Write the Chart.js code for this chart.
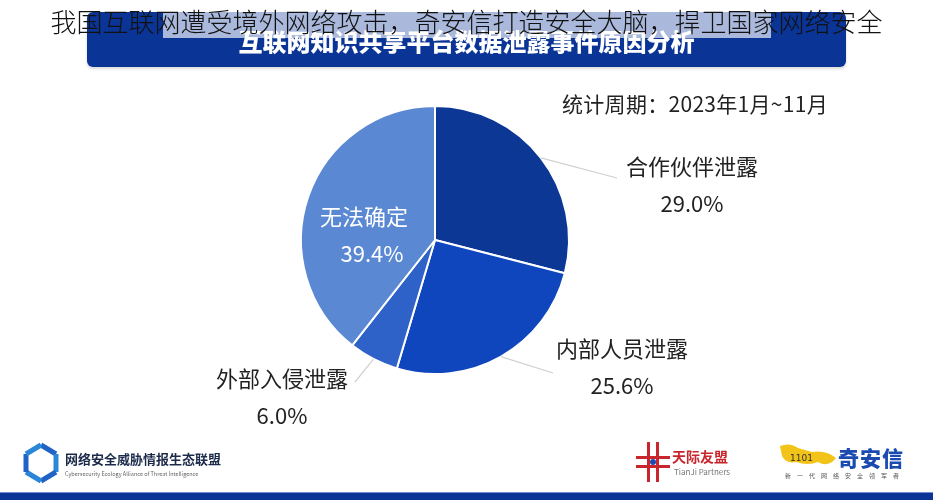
<!DOCTYPE html>
<html>
<head>
<meta charset="utf-8">
<script src="https://cdn.jsdelivr.net/npm/chart.js@4.4.1/dist/chart.umd.min.js"></script>
<style>
  html, body { margin: 0; padding: 0; background: #fff; }
  body { width: 933px; height: 500px; position: relative; overflow: hidden; font-family: "Noto Sans CJK SC", "Noto Sans", sans-serif; }
  #wrap { position: absolute; left: 0; top: 0; width: 933px; height: 500px; }
  .banner { position: absolute; left: 87px; top: 12px; width: 759px; height: 55px; background: #0a3597; border-radius: 6px; box-shadow: 0 2px 3px rgba(0,0,0,0.15); }
  .banner span { position: absolute; left: 0; right: 0; top: 14px; text-align: center; color: #fff; font-size: 24px; font-weight: 900; line-height: 30px; }
  .veil { position: absolute; left: 163px; top: 10px; width: 608px; height: 28px; background: rgba(255,255,255,0.65); }
  .headline { position: absolute; left: 0; right: 0; top: 4px; text-align: center; font-size: 26px; color: #111; font-weight: 300; line-height: 34px; }
  .period { position: absolute; left: 562px; top: 89px; font-size: 21px; color: #222; line-height: 28px; letter-spacing: 0.3px; }
  .foot { position: absolute; left: 0; top: 492px; width: 933px; height: 8px; background: #0a3597; border-top: 1px solid #6f8fd0; }
  .logo1t { position: absolute; left: 65px; top: 450px; font-size: 13px; font-weight: 700; color: #1c2a4a; line-height: 18px; }
  .logo1s { position: absolute; left: 65px; top: 470px; font-size: 5.5px; color: #666; line-height: 8px; }
  .logo2t { position: absolute; left: 672px; top: 447px; font-size: 14px; font-weight: 700; color: #c8262c; line-height: 18px; }
  .logo2s { position: absolute; left: 674px; top: 467px; font-size: 8px; color: #777; line-height: 10px; }
  .logo3t { position: absolute; left: 838px; top: 443px; font-size: 21px; font-weight: 900; color: #1b4bb0; line-height: 28px; letter-spacing: 1px; }
  .logo3s { position: absolute; left: 785px; top: 472px; font-size: 6px; color: #555; line-height: 8px; letter-spacing: 6px; }
  canvas { position: absolute; left: 0; top: 0; }
</style>
</head>
<body>
<div id="wrap">
  <canvas id="pieChart" width="933" height="500"></canvas>
</div>
<div class="banner"><span>互联网知识共享平台数据泄露事件原因分析</span></div>
<div class="veil"></div>
<div class="headline">我国互联网遭受境外网络攻击，奇安信打造安全大脑，捍卫国家网络安全</div>
<div class="period">统计周期：2023年1月~11月</div>

<svg style="position:absolute;left:22px;top:442px" width="38" height="42" viewBox="0 0 38 42">
  <g fill="none" stroke-width="5">
    <path d="M19 3 L34 12" stroke="#1f63c6"/>
    <path d="M34 12 L34 30" stroke="#2b86d8"/>
    <path d="M34 30 L19 39" stroke="#1f63c6"/>
    <path d="M19 39 L4 30" stroke="#2b86d8"/>
    <path d="M4 30 L4 12" stroke="#1f63c6"/>
    <path d="M4 12 L19 3" stroke="#2b86d8"/>
  </g>
  <circle cx="19" cy="21" r="7" fill="#fff"/>
</svg>
<div class="logo1t">网络安全威胁情报生态联盟</div>
<div class="logo1s">Cybersecurity Ecology Alliance of Threat Intelligence</div>

<svg style="position:absolute;left:636px;top:442px" width="34" height="40" viewBox="0 0 34 40">
  <rect x="11" y="0" width="3" height="40" fill="#c8262c"/>
  <rect x="20" y="0" width="3" height="40" fill="#c8262c"/>
  <rect x="0" y="14" width="34" height="3" fill="#c8262c"/>
  <rect x="0" y="23" width="34" height="3" fill="#c8262c"/>
  <circle cx="17" cy="20" r="3" fill="#1b4bb0"/>
</svg>
<div class="logo2t">天际友盟</div>
<div class="logo2s">TianJi Partners</div>

<svg style="position:absolute;left:778px;top:442px" width="60" height="28" viewBox="0 0 60 28">
  <path d="M2 4 Q12 0 20 6 L34 10 Q48 8 58 16 Q50 26 40 20 Q30 24 18 20 Q8 22 4 14 Z" fill="#f2c318"/>
  <text x="12" y="19" font-size="9" font-family="DejaVu Sans" fill="#333">1101</text>
</svg>
<div class="logo3t">奇安信</div>
<div class="logo3s">新一代网络安全领军者</div>

<div class="foot"></div>

<script>
// slices, clockwise from 12 o'clock
const categories = ["合作伙伴泄露", "内部人员泄露", "外部入侵泄露", "无法确定"];
const shares = [29.0, 25.6, 6.0, 39.4];
const shareLabels = ["29.0%", "25.6%", "6.0%", "39.4%"];
const sliceColors = ["#0c3795", "#0f45bd", "#2f62c8", "#5b88d3"];

// label layout: offsets of the text block from the pie centre, end point of the leader line
const labelLayout = [
  { dx: 257, dy: -54, lineEnd: [182, -62], inside: false },
  { dx: 187, dy: 128, lineEnd: [118, 133], inside: false },
  { dx: -153, dy: 158, lineEnd: [-80, 142], inside: false },
  { dx: -71, dy: -4, lineEnd: null, inside: true }
];

const sliceLabels = {
  id: "sliceLabels",
  afterDatasetsDraw(chart) {
    const ctx = chart.ctx;
    const arcs = chart.getDatasetMeta(0).data;
    arcs.forEach((arc, i) => {
      const lay = labelLayout[i];
      const cx = arc.x, cy = arc.y;
      const mid = (arc.startAngle + arc.endAngle) / 2;
      ctx.save();
      if (lay.lineEnd) {
        const r = arc.outerRadius;
        ctx.strokeStyle = "#d0d0d0";
        ctx.lineWidth = 1.2;
        ctx.beginPath();
        ctx.moveTo(cx + Math.cos(mid) * r, cy + Math.sin(mid) * r);
        ctx.lineTo(cx + lay.lineEnd[0], cy + lay.lineEnd[1]);
        ctx.stroke();
      }
      ctx.fillStyle = lay.inside ? "#ffffff" : "#222222";
      ctx.textAlign = "center";
      ctx.textBaseline = "middle";
      ctx.font = "22px 'Noto Sans CJK SC'";
      ctx.fillText(categories[i], cx + lay.dx, cy + lay.dy - 19);
      ctx.fillText(shareLabels[i], cx + lay.dx + (lay.inside ? 8 : 0), cy + lay.dy + 18);
      ctx.restore();
    });
  }
};

const ctx = document.getElementById("pieChart").getContext("2d");
const pieChart = new Chart(ctx, {
  type: "pie",
  data: {
    labels: categories,
    datasets: [{
      data: shares,
      backgroundColor: sliceColors,
      borderColor: "#ffffff",
      borderWidth: 2
    }]
  },
  options: {
    responsive: false,
    animation: false,
    layout: { padding: { left: 300, right: 363, top: 105, bottom: 125 } },
    plugins: {
      legend: { display: false },
      tooltip: { enabled: false }
    }
  },
  plugins: [sliceLabels]
});
</script>
</body>
</html>
